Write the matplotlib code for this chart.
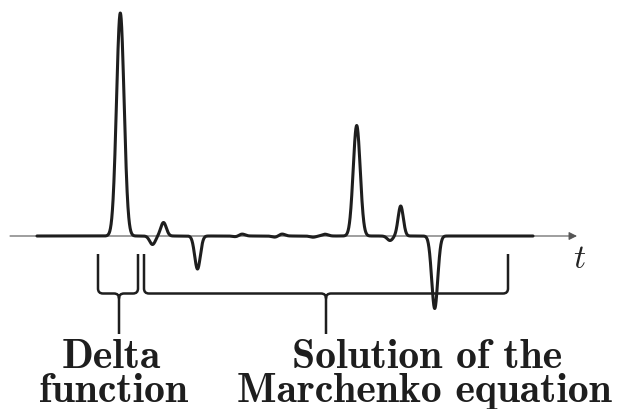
import matplotlib.pyplot as plt
import numpy as np
from matplotlib.path import Path
from matplotlib.patches import PathPatch

plt.rcParams['mathtext.fontset'] = 'cm'

# pulses making up the trace: position, amplitude, width
pulse_t = [120.3, 152.5, 163.5, 197.5, 236, 242, 275, 282, 313, 325, 356.7, 390, 400.7, 434.7]
pulse_amp = [223, -8.5, 13.5, -33, -0.8, 2, -1.2, 2, -1.2, 1.8, 110.5, -4.5, 30, -72.5]
pulse_w = [3.8, 2.8, 2.8, 2.8, 3, 3, 3, 3, 3, 3, 3.5, 2.8, 2.6, 3.0]
t_start, t_end = 37, 533

# braces under the axis: left end, right end, tip
brace_left = [98, 144]
brace_right = [138, 508]
brace_tip = [119, 326]

label_top = ['Delta', 'Solution of the']
label_bottom = ['function', 'Marchenko equation']
label_top_x = [111, 427.5]
label_bottom_x = [113, 424.5]

fig = plt.figure(figsize=(6.29, 4.10), dpi=100)
ax = fig.add_axes([0, 0, 1, 1])
ax.set_xlim(0, 629)
ax.set_ylim(-173, 237)
ax.axis('off')

# time axis with arrow
ax.annotate('', xy=(577, 0), xytext=(10, 0),
            arrowprops=dict(arrowstyle='-|>', color='#555555', lw=0.8,
                            mutation_scale=12, shrinkA=0, shrinkB=0))
ax.text(580, -31, '$t$', fontsize=24, ha='center', va='baseline', color='#222222')

t = np.linspace(t_start, t_end, 3000)
y = np.zeros_like(t)
for c, a, w in zip(pulse_t, pulse_amp, pulse_w):
    y += a * np.exp(-0.5 * ((t - c) / w) ** 2)
ax.plot(t, y, color='#1e1e1e', lw=2.2, solid_capstyle='round', zorder=3)


def brace(xa, xb, xm, top=-18, mid=-57.5, tip=-98, r=5):
    verts = [(xa, top), (xa, mid + r), (xa, mid), (xa + r, mid),
             (xm - r, mid), (xm, mid), (xm, mid - r), (xm, tip),
             (xb, top), (xb, mid + r), (xb, mid), (xb - r, mid),
             (xm + r, mid), (xm, mid), (xm, mid - r)]
    codes = [Path.MOVETO, Path.LINETO, Path.CURVE3, Path.CURVE3,
             Path.LINETO, Path.CURVE3, Path.CURVE3, Path.LINETO,
             Path.MOVETO, Path.LINETO, Path.CURVE3, Path.CURVE3,
             Path.LINETO, Path.CURVE3, Path.CURVE3]
    ax.add_patch(PathPatch(Path(verts, codes), fill=False, lw=1.8,
                           edgecolor='#1e1e1e', capstyle='butt'))


for xa, xb, xm in zip(brace_left, brace_right, brace_tip):
    brace(xa, xb, xm)

for x1, x2, s1, s2 in zip(label_top_x, label_bottom_x, label_top, label_bottom):
    ax.text(x1, 237 - 368, s1, family='cmb10', fontsize=30, ha='center',
            va='baseline', color='#1e1e1e')
    ax.text(x2, 237 - 402.5, s2, family='cmb10', fontsize=30, ha='center',
            va='baseline', color='#1e1e1e')

fig.savefig('out.png', dpi=100, facecolor='white')
